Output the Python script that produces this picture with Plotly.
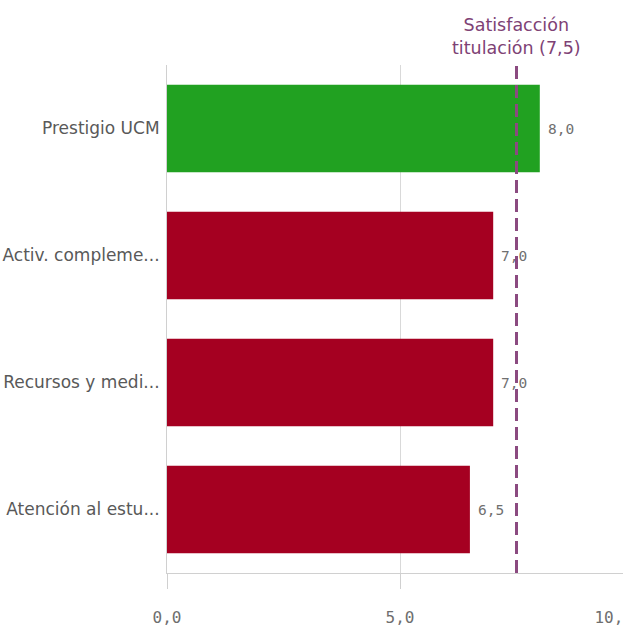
import plotly.graph_objects as go

# Survey dimensions and their average scores (0-10 scale)
categories = ["Prestigio UCM", "Activ. compleme...", "Recursos y medi...", "Atención al estu..."]
scores = [8.0, 7.0, 7.0, 6.5]
bar_colors = ["#21A121", "#A50021", "#A50021", "#A50021"]

# Reference value: overall degree satisfaction
reference_value = 7.5
reference_label = "Satisfacción<br>titulación (7,5)"

x_ticks = [0, 5, 10]


def fmt(v):
    return f"{v:.1f}".replace(".", ",")


# the last tick label is pulled leftwards (padded with no-break spaces)
# so it stays mostly inside the visible page
x_tick_text = [fmt(v) for v in x_ticks]
x_tick_text[-1] = x_tick_text[-1] + "\u00a0" * 4

fig = go.Figure(
    go.Bar(
        x=scores,
        y=categories,
        orientation="h",
        marker=dict(color=bar_colors, line=dict(width=0)),
        width=0.69,
        hoverinfo="x+y",
    )
)

# Value labels just right of each bar end
for cat, val in zip(categories, scores):
    fig.add_annotation(
        x=val, y=cat, xref="x", yref="y",
        xanchor="left", xshift=6,
        text=fmt(val),
        showarrow=False,
        font=dict(family="DejaVu Sans Mono", size=14.5, color="#707070"),
    )

fig.add_shape(
    type="line",
    xref="x", yref="paper",
    x0=reference_value, x1=reference_value, y0=0, y1=1,
    line=dict(color="#8B4A80", width=3, dash="13px,6px"),
    layer="above",
)

fig.add_annotation(
    x=reference_value, xref="x",
    y=1, yref="paper",
    yanchor="bottom",
    yshift=5,
    text=reference_label,
    showarrow=False,
    font=dict(family="DejaVu Sans", size=17.5, color="#7E4275"),
    align="center",
)

fig.update_layout(
    width=660,
    height=637,
    margin=dict(l=167, r=27, t=65, b=64),
    plot_bgcolor="white",
    paper_bgcolor="white",
    separators=",.",
    showlegend=False,
    bargap=0.31,
)

fig.update_xaxes(
    range=[0, 10],
    tickvals=x_ticks,
    ticktext=x_tick_text,
    showgrid=True,
    gridcolor="#d9d9d9",
    gridwidth=1,
    zeroline=False,
    showline=True,
    linecolor="#d0d0d0",
    linewidth=1,
    ticks="outside",
    ticklen=15,
    tickcolor="#d0d0d0",
    tickfont=dict(family="DejaVu Sans Mono", size=16, color="#6e6e6e"),
    ticklabelstandoff=15,
    ticklabeloverflow="allow",
    automargin=False,
)

fig.update_yaxes(
    autorange="reversed",
    showgrid=False,
    zeroline=False,
    showline=True,
    linecolor="#d0d0d0",
    linewidth=1,
    ticks="",
    ticklabelstandoff=3,
    tickfont=dict(family="DejaVu Sans", size=17, color="#595959"),
    automargin=False,
)

fig.write_html(
    "out.html",
    post_script="document.body.style.overflow='hidden';document.documentElement.style.overflow='hidden';",
)
